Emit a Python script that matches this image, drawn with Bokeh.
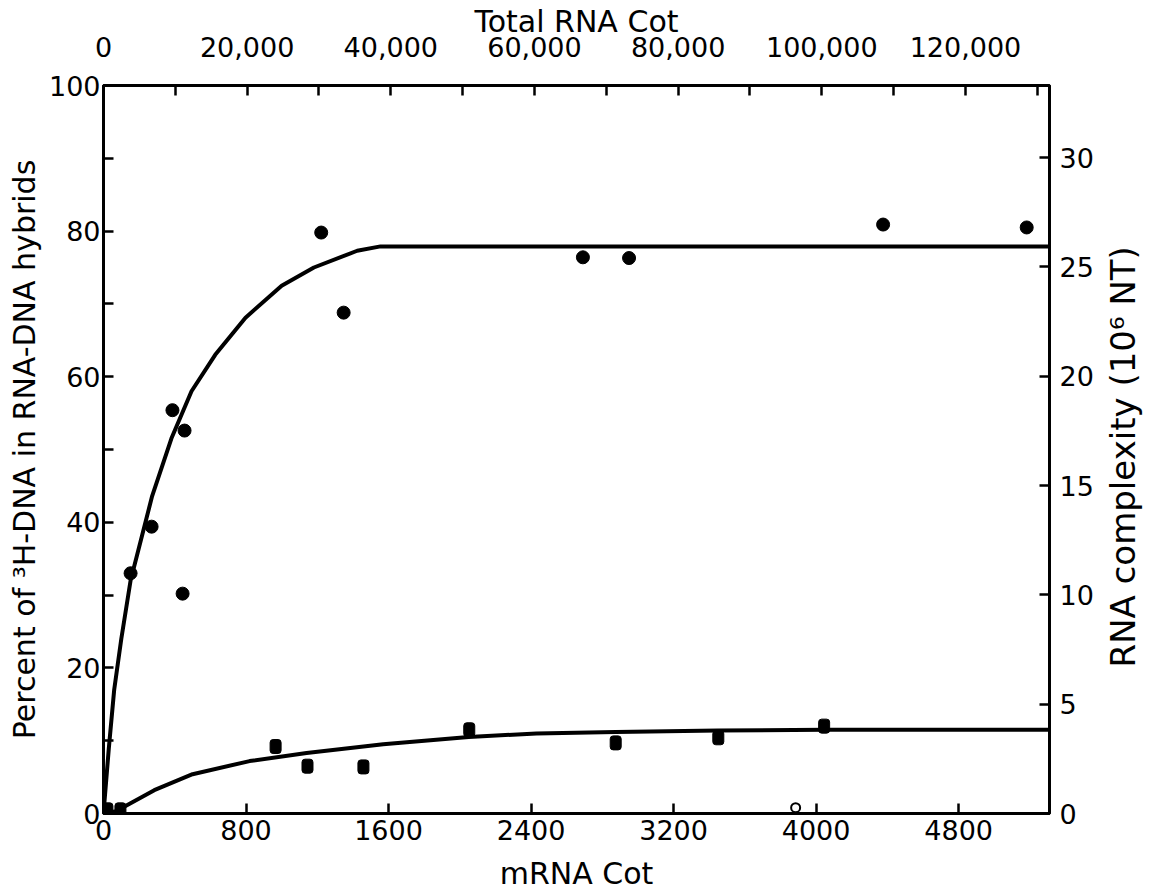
import math
from bokeh.plotting import figure
from bokeh.layouts import row, column
from bokeh.models import Range1d, LinearAxis, FixedTicker, CustomJSTickFormatter
from bokeh.core.properties import value
from bokeh.embed import file_html
from bokeh.resources import INLINE

# ---- data ----
# mRNA Cot (bottom axis) vs percent hybridised
circle_x = [152, 270, 387, 455, 444, 1222, 1348, 2691, 2950, 4376, 5182]
circle_y = [33.0, 39.4, 55.4, 52.6, 30.2, 79.8, 68.8, 76.4, 76.3, 80.9, 80.5]

square_x = [22, 95, 966, 1145, 1459, 2053, 2875, 3451, 4045]
square_y = [0.5, 0.5, 9.2, 6.5, 6.4, 11.5, 9.7, 10.4, 12.0]

open_x = [3885]
open_y = [0.8]

upper_curve_x = [0, 30, 60, 100, 152, 273, 381, 494, 627, 797, 1000, 1181, 1424, 1555, 5310]
upper_curve_y = [0, 9, 17, 24, 32, 43.6, 51.5, 58, 63, 68.1, 72.5, 75.0, 77.3, 77.9, 77.9]

lower_curve_x = [0, 70, 285, 500, 820, 1140, 1570, 2050, 2430, 2875, 3450, 4050, 5310]
lower_curve_y = [0, 0.3, 3.2, 5.4, 7.2, 8.3, 9.5, 10.5, 11.0, 11.2, 11.4, 11.5, 11.5]

bottom_ticks = [0, 800, 1600, 2400, 3200, 4000, 4800]
left_ticks = [0, 20, 40, 60, 80, 100]
left_minor = [10, 30, 50, 70, 90]
top_ticks = [0, 20000, 40000, 60000, 80000, 100000, 120000]
top_minor = [10000, 30000, 50000, 70000, 90000, 110000, 130000]
right_ticks = [0, 5, 10, 15, 20, 25, 30]

bottom_title = "mRNA Cot"
top_title = "Total RNA Cot"
left_title = "Percent of \u00b3H-DNA in RNA-DNA hybrids"
right_title = "RNA complexity (10\u2076 NT)"

FONT = "DejaVu Sans"
FS = "27px"
TFS = "30px"

# layout geometry (pixels)
FR_L, FR_R, FR_T, FR_B = 103, 1049, 85, 813
MAIN_W = 1102
MAIN_H = 849
SIDE_W = 1152 - MAIN_W
BOT_H = 891 - MAIN_H

p = figure(width=MAIN_W, height=MAIN_H, output_backend="svg", toolbar_location=None,
           x_range=Range1d(0, 5310), y_range=Range1d(0, 100),
           min_border_left=FR_L, min_border_right=MAIN_W - FR_R,
           min_border_top=FR_T, min_border_bottom=MAIN_H - FR_B)
p.xgrid.visible = False
p.ygrid.visible = False
p.outline_line_color = "black"
p.outline_line_width = 3
p.background_fill_color = "white"
p.border_fill_color = "white"

p.extra_x_ranges = {"total": Range1d(0, 131700)}
p.extra_y_ranges = {"cx": Range1d(0, 33.3)}

def style(ax, standoff, title_standoff):
    ax.axis_line_width = 3
    ax.axis_line_color = "black"
    ax.major_tick_in = 10
    ax.major_tick_out = 0
    ax.minor_tick_in = 10
    ax.minor_tick_out = 0
    ax.major_tick_line_width = 2.5
    ax.minor_tick_line_width = 2.5
    ax.major_label_text_font = FONT
    ax.major_label_text_font_size = FS
    ax.major_label_text_color = "black"
    ax.axis_label_text_font = FONT
    ax.axis_label_text_font_size = TFS
    ax.axis_label_text_font_style = "normal"
    ax.axis_label_text_color = "black"
    ax.major_label_standoff = standoff
    ax.axis_label_standoff = title_standoff

bx = p.xaxis[0]
bx.ticker = FixedTicker(ticks=bottom_ticks)
style(bx, 6, 0)

ly = p.yaxis[0]
ly.ticker = FixedTicker(ticks=left_ticks, minor_ticks=left_minor)
ly.axis_label = left_title
style(ly, 3, 4)

tx = LinearAxis(x_range_name="total", axis_label=top_title)
tx.ticker = FixedTicker(ticks=top_ticks, minor_ticks=top_minor)
tx.formatter = CustomJSTickFormatter(code="return tick.toLocaleString('en-US');")
style(tx, 29, -5)
p.add_layout(tx, "above")

ry = LinearAxis(y_range_name="cx")
ry.ticker = FixedTicker(ticks=right_ticks)
style(ry, 10, 0)
p.add_layout(ry, "right")

p.line(upper_curve_x, upper_curve_y, line_color="black", line_width=4)
p.line(lower_curve_x, lower_curve_y, line_color="black", line_width=4)
p.scatter(circle_x, circle_y, marker="circle", size=13, fill_color="black", line_color="black")
p.rect(square_x, square_y, width=11, height=14, width_units="screen", height_units="screen",
       fill_color="black", line_color="black", border_radius=3)
p.scatter(open_x, open_y, marker="circle", size=9, fill_color="white", line_color="black", line_width=2)

def blank(w, h):
    f = figure(width=w, height=h, output_backend="svg", toolbar_location=None, title=None,
               x_range=Range1d(0, w), y_range=Range1d(0, h),
               x_axis_location=None, y_axis_location=None,
               min_border=0, min_border_left=0, min_border_right=0,
               min_border_top=0, min_border_bottom=0)
    f.xgrid.visible = False
    f.ygrid.visible = False
    f.outline_line_color = None
    f.background_fill_color = "white"
    f.border_fill_color = "white"
    return f

# right-hand axis title, reading bottom to top
rf = blank(SIDE_W, MAIN_H)
rf.text(x=[20], y=[MAIN_H - 433], text=[right_title], angle=math.pi / 2,
        text_font=value(FONT), text_font_size="34px", text_color="black",
        text_align="center", text_baseline="middle")

# bottom axis title
bf = blank(MAIN_W + SIDE_W, BOT_H)
bf.text(x=[(FR_L + FR_R) / 2], y=[18], text=[bottom_title],
        text_font=value(FONT), text_font_size=TFS, text_color="black",
        text_align="center", text_baseline="middle")

layout = column(row(p, rf, spacing=0), bf, spacing=0)
open("out.html", "w").write(file_html(layout, INLINE))
